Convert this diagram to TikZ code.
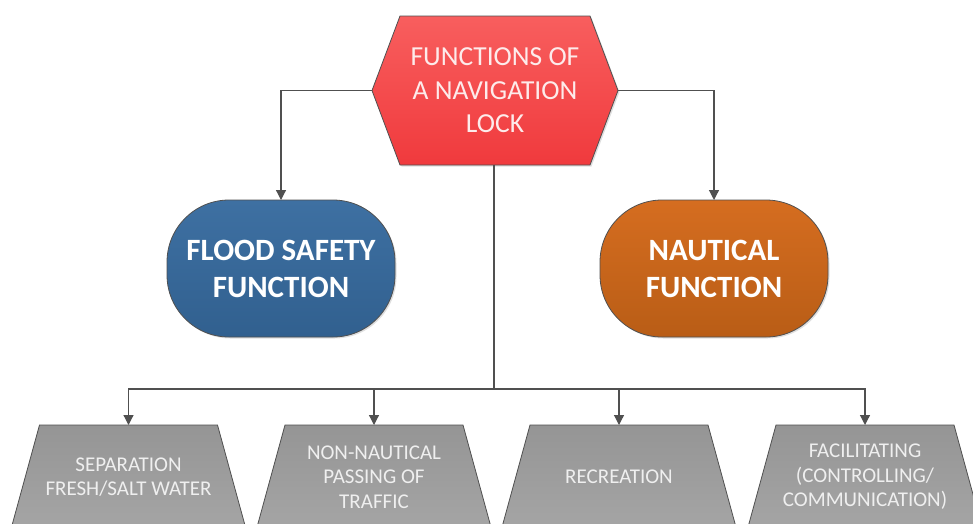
\documentclass[tikz,border=0pt]{standalone}
\usepackage{fontspec}
\setmainfont{Carlito}
\usetikzlibrary{arrows.meta,shapes.geometric,shadows,backgrounds}
\definecolor{linegray}{HTML}{505050}
\definecolor{redtop}{HTML}{F85E5E}
\definecolor{redbot}{HTML}{F03A3D}
\definecolor{bluetop}{HTML}{3E70A2}
\definecolor{bluebot}{HTML}{31608F}
\definecolor{orangetop}{HTML}{D56D20}
\definecolor{orangebot}{HTML}{B95D16}
\definecolor{graytop}{HTML}{959595}
\definecolor{graybot}{HTML}{A5A5A5}
\definecolor{hextext}{HTML}{FDEBEB}
\definecolor{graytext}{HTML}{EFEFEF}
\tikzset{
  line/.style={draw=linegray, line width=1.2pt},
  conn/.style={line, -{Triangle[length=10pt,width=10pt]}},
  softshadow/.style={drop shadow={opacity=0.25, shadow xshift=1.5pt, shadow yshift=-1.5pt}},
  hexbox/.style={minimum width=246pt, minimum height=149pt, inner sep=0pt, outer sep=0pt,
    align=center, text=hextext, font=\fontsize{27.5}{33.5}\selectfont},
  hexfill/.style={draw=linegray, line width=0.8pt, top color=redtop, bottom color=redbot, softshadow},
  termbox/.style={rectangle, rounded corners=62pt, minimum width=228pt, minimum height=137pt,
    inner sep=0pt, outer sep=0pt, draw=linegray, line width=0.8pt, align=center, text=white,
    font=\fontsize{31}{37}\selectfont\bfseries, softshadow},
  bluebox/.style={termbox, top color=bluetop, bottom color=bluebot},
  orangebox/.style={termbox, top color=orangetop, bottom color=orangebot},
  trapbox/.style={rectangle, minimum width=235pt, minimum height=104pt,
    inner sep=0pt, outer sep=0pt, align=center, text=graytext,
    font=\fontsize{21}{24.5}\selectfont},
  trapfill/.style={draw=linegray, line width=0.8pt, top color=graytop, bottom color=graybot},
  trapshape/.style={insert path={
    (#1.south west) -- ([xshift=28.5pt]#1.north west) -- ([xshift=-28.5pt]#1.north east)
    -- (#1.south east) -- cycle}},
}
\begin{document}
\begin{tikzpicture}[x=1pt,y=-1pt]
\useasboundingbox (0,0) rectangle (973,523);
\clip (0,0) rectangle (973,523);
% top hexagon
\node[hexbox] (hex) at (495,90.5) {FUNCTIONS OF\\A NAVIGATION\\LOCK};
% middle terminators
\node[bluebox] (flood) at (281,268.5) {FLOOD SAFETY\\FUNCTION};
\node[orangebox] (naut) at (714,268.5) {NAUTICAL\\FUNCTION};
% bottom trapezia
\node[trapbox] (b1) at (128.5,477) {SEPARATION\\FRESH/SALT WATER};
\node[trapbox] (b2) at (374,477) {NON-NAUTICAL\\PASSING OF\\TRAFFIC};
\node[trapbox] (b3) at (619,477) {RECREATION};
\node[trapbox] (b4) at (865,477) {FACILITATING\\(CONTROLLING/\\COMMUNICATION)};
\begin{scope}[on background layer]
\path[hexfill] (hex.west) -- ([xshift=28pt]hex.north west) -- ([xshift=-28pt]hex.north east)
  -- (hex.east) -- ([xshift=-28pt]hex.south east) -- ([xshift=28pt]hex.south west) -- cycle;
\path[trapfill, trapshape=b1];
\path[trapfill, trapshape=b2];
\path[trapfill, trapshape=b3];
\path[trapfill, trapshape=b4];
\end{scope}
% connectors
\coordinate (bus) at (494,389);
\draw[conn] (hex.south -| bus) -- (bus) -| (b1.north);
\draw[conn] (hex.south -| bus) -- (bus) -| (b2.north);
\draw[conn] (hex.south -| bus) -- (bus) -| (b3.north);
\draw[conn] (hex.south -| bus) -- (bus) -| (b4.north);
\draw[conn] (hex.west) -| (flood.north);
\draw[conn] (hex.east) -| (naut.north);
\end{tikzpicture}
\end{document}
